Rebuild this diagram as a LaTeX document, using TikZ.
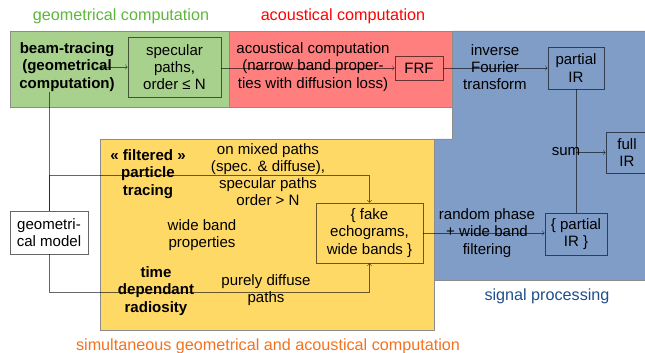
\documentclass[tikz,border=0pt]{standalone}
\usepackage{fontspec}
\setmainfont{Liberation Sans}
\definecolor{geogreen}{HTML}{A9D18E}
\definecolor{acored}{HTML}{FF7F7F}
\definecolor{sigblue}{HTML}{7F9DC7}
\definecolor{simyellow}{HTML}{FFD966}
\definecolor{geotitle}{HTML}{5CB83A}
\definecolor{sigtitle}{HTML}{1F4E8C}
\definecolor{simtitle}{HTML}{F4721E}
\newcommand{\diagtext}{\fontsize{10.7}{12.2}\selectfont}
\newcommand{\diagtitle}{\fontsize{11.5}{13}\selectfont}

\begin{document}
\begin{tikzpicture}[x=0.025cm,y=-0.025cm,
		zone/.style={draw=black!45},
		box/.style={draw=black, draw opacity=0.6, align=center, inner sep=0pt, font=\diagtext},
		txt/.style={align=center, inner sep=0pt, font=\diagtext},
		title/.style={inner sep=0pt, font=\diagtitle},
		conn/.style={draw=black, draw opacity=0.6}]
			\useasboundingbox (0,0) rectangle (645,353);
			% coloured zones
			\filldraw[zone, fill=sigblue] (452,31) -- (650,31) -- (650,280) -- (434,280) -- (434,139) -- (452,139) -- cycle;
			\filldraw[zone, fill=acored] (229,31) rectangle (452,107);
			\filldraw[zone, fill=geogreen] (10,31) rectangle (229,107);
			\filldraw[zone, fill=simyellow] (100,139) rectangle (434,330);
			% zone titles
			\node[title, text=geotitle] (geotxt) at (121,16) {geometrical computation};
			\node[title, text=red] (acotxt) at (343,16) {acoustical computation};
			\node[title, text=sigtitle] (sigtxt) at (547,296) {signal processing};
			\node[title, text=simtitle] (simtxt) at (268,346) {simultaneous geometrical and acoustical computation};
			% boxes
			\node[box, minimum width=2.325cm, minimum height=1.5cm] (spec) at (174.5,67) {specular\\paths,\\order ≤ N};
			\node[box, minimum width=1.2cm, minimum height=0.6cm] (frf) at (419,68) {FRF};
			\node[box, minimum width=1.4cm, minimum height=1.05cm] (pir) at (576,68) {partial\\IR};
			\node[box, minimum width=1.05cm, minimum height=1.025cm] (fir) at (627,152.5) {full\\IR};
			\node[box, minimum width=1.55cm, minimum height=1.05cm] (spir) at (576,234) {\{ partial\\IR \}};
			\node[box, minimum width=2.675cm, minimum height=1.5cm] (fake) at (369.5,233) {\{ fake\\echograms,\\wide bands \}};
			\node[box, fill=white, minimum width=1.95cm, minimum height=1.075cm] (geo) at (49,232.5) {geometri-\\cal model};
			% free texts
			\node[txt, font=\diagtext\bfseries] (beam) at (67,67) {beam-tracing\\(geometrical\\computation)};
			\node[txt] (aco) at (313,67) {acoustical computation\\(narrow band proper-\\ties with diffusion loss)};
			\node[txt] (ift) at (495,67) {inverse\\Fourier\\transform};
			\node[txt] (sum) at (566,152) {sum};
			\node[txt] (rnd) at (487,233) {random phase\\+ wide band\\filtering};
			\node[txt, font=\diagtext\bfseries] (filt) at (148,174) {« filtered »\\particle\\tracing};
			\node[txt] (mixed) at (268,174.5) {on mixed paths\\(spec. \& diffuse),\\specular paths\\order > N};
			\node[txt] (wide) at (202,235.5) {wide band\\properties};
			\node[txt, font=\diagtext\bfseries] (tdr) at (156,291) {time\\dependant\\radiosity};
			\node[txt] (pure) at (266,290) {purely diffuse\\paths};
			% connectors
			\coordinate (bt) at (100,67);
			\coordinate (btfoot) at (49,92);
			\draw[conn] (geo.north) -- (btfoot);
			\draw[conn, ->] (bt) -- (spec.west |- bt);
			\draw[conn, ->] (spec.east |- frf.west) -- (frf.west);
			\draw[conn, ->] (frf.east) -- (frf.east -| pir.west);
			\draw[conn] (pir.south) -- (spir.north);
			\draw[conn, ->] (pir.south |- fir.west) -- (fir.west);
			\draw[conn, ->] (geo.north) |- (fake.north |- 0,175) -- (fake.north);
			\draw[conn, ->] (geo.south) |- (fake.south |- 0,292) -- (fake.south);
			\draw[conn, ->] (fake.east) -- (fake.east -| spir.west);
		\end{tikzpicture}
\end{document}
